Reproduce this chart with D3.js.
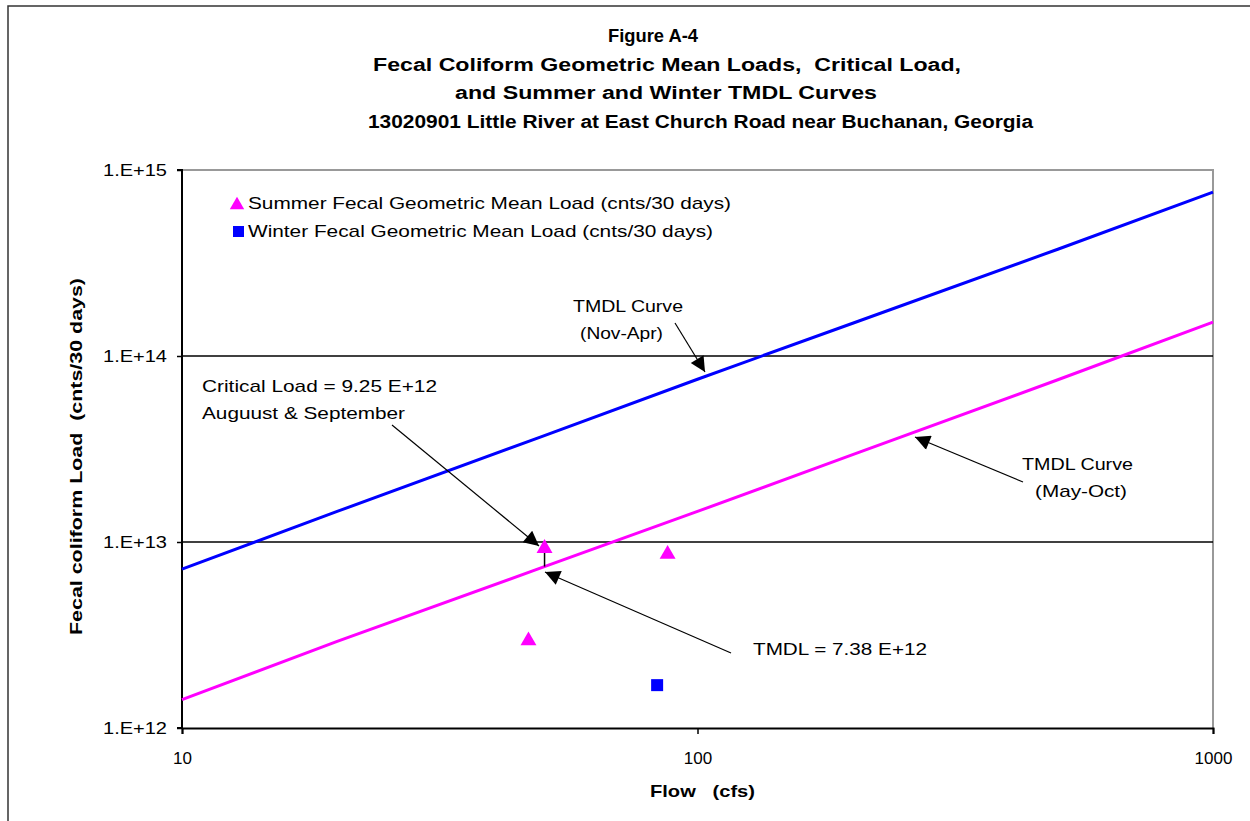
<!DOCTYPE html>
<html><head><meta charset="utf-8">
<script src="https://cdn.jsdelivr.net/npm/d3@7"></script>
<style>body{margin:0;background:#fff}svg{display:block;font-family:"Liberation Sans",Arial,sans-serif}</style>
</head><body><svg id="c" width="1250" height="821"></svg>
<script>
// ---- data ----
const titleLines = ["Figure A-4","Fecal Coliform Geometric Mean Loads,  Critical Load,","and Summer and Winter TMDL Curves","13020901 Little River at East Church Road near Buchanan, Georgia"];
const curveFlows = [10, 20, 50, 100, 200, 500, 1000];
const winterTMDL = [7.15e12, 1.46e13, 3.7e13, 7.5e13, 1.5e14, 3.75e14, 7.6e14];
const summerTMDL = [1.42e12, 2.92e12, 7.3e12, 1.46e13, 2.95e13, 7.45e13, 1.52e14];
const summerFlow = [50.5, 87.5, 47.0];
const summerLoad = [9.25e12, 8.6e12, 2.95e12];
const winterFlow = [83.5];
const winterLoad = [1.7e12];
const yTicks = [1e12, 1e13, 1e14, 1e15];
const yTickLabels = ["1.E+12","1.E+13","1.E+14","1.E+15"];
const xTicks = [10, 100, 1000];
const xTickLabels = ["10","100","1000"];
const criticalFlow = 50.5, criticalLoad = 9.25e12, tmdlLoad = 7.38e12;

const svg = d3.select("#c");
const L = 182, R = 1213, T = 170, B = 728;
const x = d3.scaleLog().domain([10, 1000]).range([L, R]);
const y = d3.scaleLog().domain([1e12, 1e15]).range([B, T]);
const fit = (sel, w) => sel.attr("textLength", w).attr("lengthAdjust", "spacingAndGlyphs");

// outer frame
svg.append("rect").attr("x", 8).attr("y", 6).attr("width", 1300).attr("height", 900)
  .attr("fill", "none").attr("stroke", "#333").attr("stroke-width", 1.5);

// title
const titleX = [608, 373, 455, 368], titleW = [90, 588, 422, 665];
svg.append("g").selectAll("text").data(titleLines).join("text")
  .attr("x", (d, i) => titleX[i]).attr("y", (d, i) => 42 + i * 28.5)
  .attr("xml:space", "preserve")
  .attr("font-weight", "bold").attr("font-size", 18).attr("fill", "#000").text(d => d)
  .attr("textLength", (d, i) => titleW[i]).attr("lengthAdjust", "spacingAndGlyphs");

// plot frame (gray top/right)
svg.append("path").attr("d", `M${L},${T}H${R}V${B}`).attr("fill", "none")
  .attr("stroke", "#999").attr("stroke-width", 2);

// gridlines
svg.append("g").selectAll("line").data([1e13, 1e14]).join("line")
  .attr("x1", L).attr("x2", R).attr("y1", d => y(d)).attr("y2", d => y(d))
  .attr("stroke", "#000").attr("stroke-width", 1.5);

// axes
const yAxis = d3.axisLeft(y).tickValues(yTicks).tickFormat((d, i) => yTickLabels[i]).tickSize(5).tickPadding(10);
const gy = svg.append("g").attr("transform", `translate(${L},0)`).call(yAxis);
const xAxis = d3.axisBottom(x).tickValues(xTicks).tickFormat((d, i) => xTickLabels[i]).tickSize(6).tickPadding(18);
const gx = svg.append("g").attr("transform", `translate(0,${B})`).call(xAxis);
[gx, gy].forEach(g => {
  g.select(".domain").attr("stroke", "#000").attr("stroke-width", 2);
  g.selectAll(".tick line").attr("stroke", "#000").attr("stroke-width", 1.5);
  g.selectAll("text").attr("font-size", 17).attr("fill", "#000").attr("font-family", "Liberation Sans, Arial, sans-serif");
});
fit(gy.selectAll("text"), 64);
gy.select(".domain").attr("d", `M-5,${T}H0V${B}H-5`);

// axis titles
fit(svg.append("text").attr("x", 650).attr("y", 797)
  .attr("font-weight", "bold").attr("font-size", 17).attr("xml:space", "preserve").text("Flow   (cfs)"), 105);
fit(svg.append("text").attr("transform", "translate(82,635) rotate(-90)")
  .attr("font-weight", "bold").attr("font-size", 17).attr("xml:space", "preserve").text("Fecal coliform Load  (cnts/30 days)"), 357);

// curves
const line = d3.line().x(d => x(d[0])).y(d => y(d[1]));
svg.append("path").datum(curveFlows.map((f, i) => [f, summerTMDL[i]])).attr("d", line)
  .attr("fill", "none").attr("stroke", "#ff00ff").attr("stroke-width", 3);
svg.append("path").datum(curveFlows.map((f, i) => [f, winterTMDL[i]])).attr("d", line)
  .attr("fill", "none").attr("stroke", "#0000ff").attr("stroke-width", 3);

// critical -> TMDL connector
svg.append("line").attr("x1", x(criticalFlow)).attr("x2", x(criticalFlow))
  .attr("y1", y(criticalLoad)).attr("y2", y(tmdlLoad)).attr("stroke", "#000").attr("stroke-width", 1.5);

// markers
const tri = d3.symbol().type(d3.symbolTriangle).size(110);
svg.append("g").selectAll("path").data(summerFlow.map((f, i) => [f, summerLoad[i]])).join("path")
  .attr("d", tri).attr("transform", d => `translate(${x(d[0])},${y(d[1])})`).attr("fill", "#ff00ff");
svg.append("g").selectAll("rect").data(winterFlow.map((f, i) => [f, winterLoad[i]])).join("rect")
  .attr("x", d => x(d[0]) - 6).attr("y", d => y(d[1]) - 6).attr("width", 12).attr("height", 12).attr("fill", "#0000ff");

// legend
svg.append("path").attr("d", d3.symbol().type(d3.symbolTriangle).size(90)).attr("transform", "translate(237,205)").attr("fill", "#ff00ff");
svg.append("rect").attr("x", 233).attr("y", 226).attr("width", 11).attr("height", 11).attr("fill", "#0000ff");
fit(svg.append("text").attr("x", 248).attr("y", 209).attr("font-size", 17).text("Summer Fecal Geometric Mean Load (cnts/30 days)"), 483);
fit(svg.append("text").attr("x", 248).attr("y", 237).attr("font-size", 17).text("Winter Fecal Geometric Mean Load (cnts/30 days)"), 465);

// arrow marker
svg.append("defs").append("marker").attr("id", "ah").attr("viewBox", "0 0 10 10").attr("refX", 10).attr("refY", 5)
  .attr("markerWidth", 19).attr("markerHeight", 15).attr("markerUnits", "userSpaceOnUse").attr("orient", "auto")
  .append("path").attr("d", "M0,0L10,5L0,10Z").attr("fill", "#000");

const arrows = [
  [675, 323, 705, 372],
  [392, 425, 539, 546],
  [731, 653, 545, 572],
  [1023, 482, 915, 437]
];
svg.append("g").selectAll("line").data(arrows).join("line")
  .attr("x1", d => d[0]).attr("y1", d => d[1]).attr("x2", d => d[2]).attr("y2", d => d[3])
  .attr("stroke", "#000").attr("stroke-width", 1.2).attr("marker-end", "url(#ah)");

const notes = [
  [573, 312, "TMDL Curve", 110], [580, 339, "(Nov-Apr)", 83],
  [202, 392, "Critical Load = 9.25 E+12", 235], [202, 419, "Auguust & September", 203],
  [753, 655, "TMDL = 7.38 E+12", 174],
  [1022, 470, "TMDL Curve", 111], [1035, 497, "(May-Oct)", 92]
];
svg.append("g").selectAll("text").data(notes).join("text")
  .attr("x", d => d[0]).attr("y", d => d[1]).attr("font-size", 17).text(d => d[2])
  .attr("textLength", d => d[3]).attr("lengthAdjust", "spacingAndGlyphs");
</script></body></html>
